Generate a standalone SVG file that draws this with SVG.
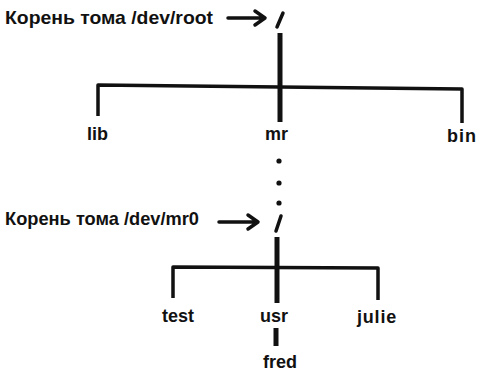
<svg xmlns="http://www.w3.org/2000/svg" width="480" height="373" viewBox="0 0 480 373">
  <style>
    .lbl { font-family: "Liberation Sans", Arial, sans-serif; font-weight: bold; font-size: 19px; fill: #111; }
    .name { font-family: "Liberation Sans", Arial, sans-serif; font-weight: bold; font-size: 18px; fill: #111; }
    .trunk { stroke: #111; stroke-width: 5; fill: none; stroke-linecap: butt; }
    .branch { stroke: #111; stroke-width: 3.5; fill: none; stroke-linejoin: round; }
    .slash { stroke: #111; stroke-width: 3.5; stroke-linecap: round; }
    .arrow { stroke: #111; stroke-width: 3.5; fill: none; stroke-linecap: round; stroke-linejoin: round; }
  </style>
  <rect width="480" height="373" fill="#ffffff"/>

  <!-- root of /dev/root -->
  <g id="root-label">
    <text class="lbl" x="5" y="24" textLength="208" lengthAdjust="spacingAndGlyphs">Корень тома /dev/root</text>
    <path class="arrow" d="M228 18 H264 M255 11 L265 18 L255 25"/>
  </g>
  <g id="root">
    <line class="slash" x1="277" y1="27" x2="283" y2="13"/>
  </g>

  <!-- root of /dev/mr0 -->
  <g id="mr0-label">
    <text class="lbl" x="5" y="225" textLength="194" lengthAdjust="spacingAndGlyphs">Корень тома /dev/mr0</text>
    <path class="arrow" d="M219 222 H257 M248 215 L258 222 L248 229"/>
  </g>
  <g id="mr0-root">
    <line class="slash" x1="276" y1="231" x2="281" y2="216"/>
  </g>

  <g id="lib"><text class="name" x="87" y="140">lib</text></g>
  <g id="mr"><text class="name" x="265" y="140">mr</text></g>
  <g id="bin"><text class="name" x="447" y="142" letter-spacing="1">bin</text></g>
  <g id="test"><text class="name" x="162" y="322">test</text></g>
  <g id="usr"><text class="name" x="260" y="322">usr</text></g>
  <g id="julie"><text class="name" x="357" y="323" letter-spacing="0.8">julie</text></g>
  <g id="fred"><text class="name" x="263" y="368">fred</text></g>

  <g id="connectors">
    <!-- upper tree -->
    <line class="trunk" x1="280" y1="33" x2="280" y2="122"/>
    <path class="branch" d="M98 116 V85 L462 89 V123"/>
    <!-- mount point dots -->
    <circle cx="279" cy="161" r="2.6" fill="#111"/>
    <circle cx="279" cy="183" r="2.6" fill="#111"/>
    <circle cx="279" cy="203" r="2.6" fill="#111"/>
    <!-- lower tree -->
    <line class="trunk" x1="277" y1="237" x2="277" y2="303"/>
    <path class="branch" d="M173 298 V267 L378 268 V300"/>
    <line class="trunk" x1="276" y1="328" x2="276" y2="346"/>
  </g>
</svg>
